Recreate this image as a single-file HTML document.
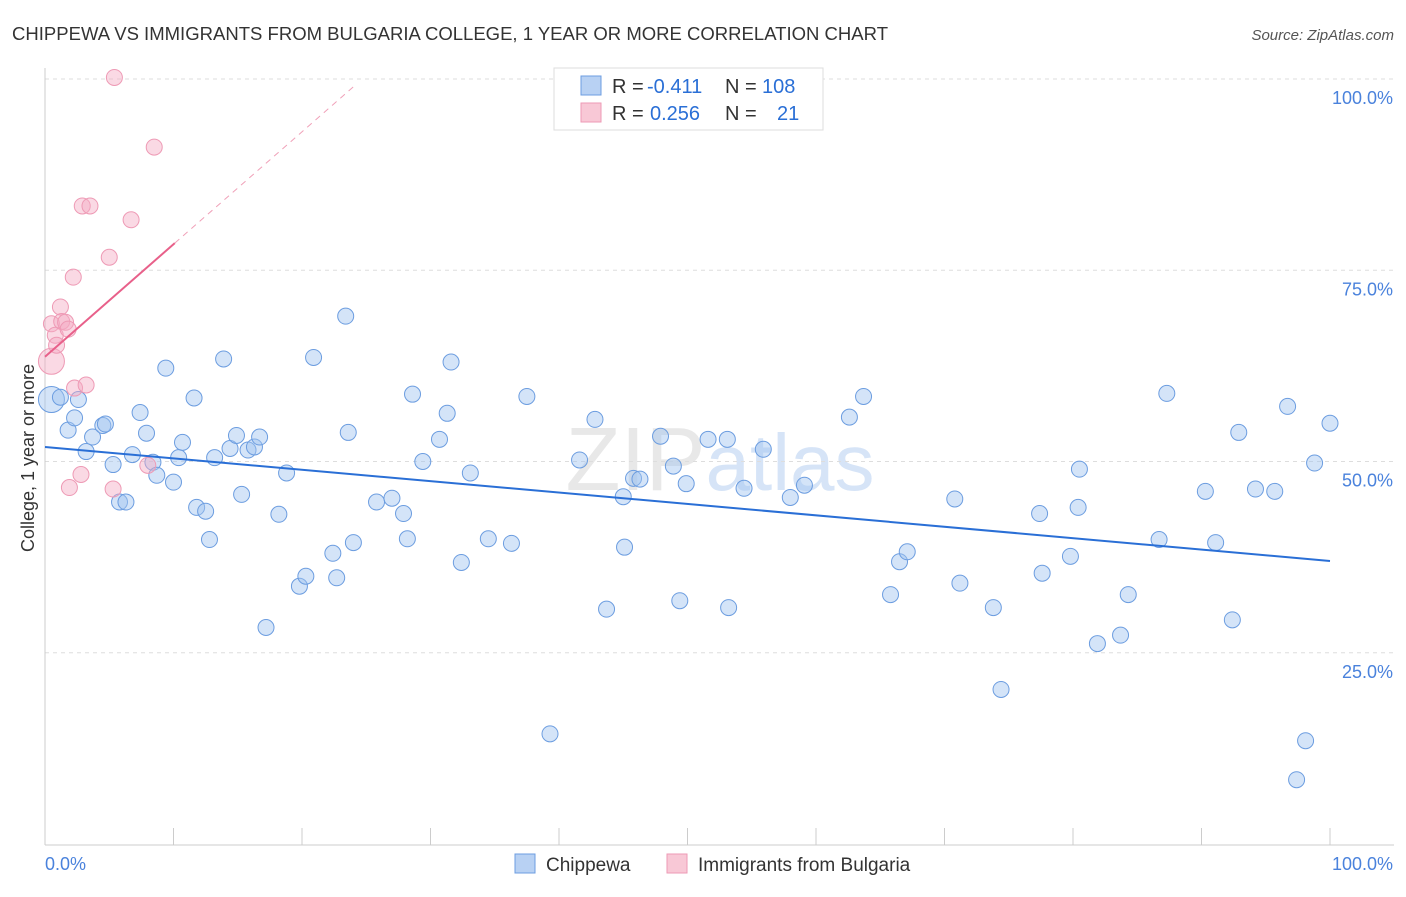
<!DOCTYPE html>
<html><head><meta charset="utf-8">
<style>
body{margin:0;background:#fff;font-family:"Liberation Sans",sans-serif;}
svg text{font-family:"Liberation Sans",sans-serif;}
</style></head>
<body>
<svg width="1406" height="892" viewBox="0 0 1406 892" xmlns="http://www.w3.org/2000/svg">
<text x="12" y="40" font-size="18" fill="#333" textLength="876" lengthAdjust="spacingAndGlyphs">CHIPPEWA VS IMMIGRANTS FROM BULGARIA COLLEGE, 1 YEAR OR MORE CORRELATION CHART</text>
<text x="1394" y="40" font-size="15" fill="#555" text-anchor="end" font-style="italic">Source: ZipAtlas.com</text>
<text x="720" y="490" font-size="90" fill="#e8e8e8" text-anchor="middle" font-family="Liberation Serif">ZIP<tspan fill="#d6e4f7" font-family="Liberation Sans" font-size="80">atlas</tspan></text>
<g id="grid"></g>
<g id="axes"></g>
<g id="pts"></g>
<g id="trends"></g>
<text transform="translate(34,458) rotate(-90)" font-size="18" fill="#333" text-anchor="middle">College, 1 year or more</text>
<g>
<rect x="554" y="68" width="269" height="62" fill="#fff" stroke="#ddd"/>
<rect x="581" y="76" width="20" height="19" fill="#b8d1f3" stroke="#6c9de0"/>
<rect x="581" y="103" width="20" height="19" fill="#f8c8d6" stroke="#ee9ab5"/>
<text x="612" y="93" font-size="20" fill="#333">R =</text>
<text x="647" y="93" font-size="20" fill="#2a6fd6">-0.411</text>
<text x="725" y="93" font-size="20" fill="#333">N =</text>
<text x="762" y="93" font-size="20" fill="#2a6fd6">108</text>
<text x="612" y="120" font-size="20" fill="#333">R =</text>
<text x="650" y="120" font-size="20" fill="#2a6fd6">0.256</text>
<text x="725" y="120" font-size="20" fill="#333">N =</text>
<text x="777" y="120" font-size="20" fill="#2a6fd6">21</text>
</g>
<g>
<rect x="515" y="854" width="20" height="19" fill="#b8d1f3" stroke="#6c9de0"/>
<text x="546" y="871" font-size="19" fill="#333">Chippewa</text>
<rect x="667" y="854" width="20" height="19" fill="#f8c8d6" stroke="#ee9ab5"/>
<text x="698" y="871" font-size="19" fill="#333">Immigrants from Bulgaria</text>
</g>
</svg>
<script>
const blueX=[0.5,1.2,1.8,2.3,2.6,3.2,3.7,4.5,4.7,5.3,5.8,6.3,6.8,7.4,7.9,8.4,8.7,9.4,10.0,10.4,10.7,11.6,11.8,12.5,12.8,13.2,13.9,14.4,14.9,15.3,15.8,16.3,16.7,17.2,18.2,18.8,19.8,20.3,20.9,22.4,22.7,23.4,23.6,24.0,25.8,27.0,27.9,28.2,28.6,29.4,30.7,31.3,31.6,32.4,33.1,34.5,36.3,37.5,39.3,41.6,42.8,43.7,45.0,45.1,45.8,46.3,47.9,48.9,49.4,49.9,51.6,53.1,53.2,54.4,55.9,58.0,59.1,62.6,63.7,65.8,66.5,67.1,70.8,71.2,73.8,74.4,77.4,77.6,79.8,80.4,80.5,81.9,83.7,84.3,86.7,87.3,90.3,91.1,92.4,92.9,94.2,95.7,96.7,98.1,97.4,98.8,100.0];
const blueY=[58.1,58.4,54.1,55.7,58.1,51.3,53.2,54.7,54.9,49.6,44.7,44.7,50.9,56.4,53.7,49.9,48.2,62.2,47.3,50.5,52.5,58.3,44.0,43.5,39.8,50.5,63.4,51.7,53.4,45.7,51.5,51.9,53.2,28.3,43.1,48.5,33.7,35.0,63.6,38.0,34.8,69.0,53.8,39.4,44.7,45.2,43.2,39.9,58.8,50.0,52.9,56.3,63.0,36.8,48.5,39.9,39.3,58.5,14.4,50.2,55.5,30.7,45.4,38.8,47.8,47.7,53.3,49.4,31.8,47.1,52.9,52.9,30.9,46.5,51.6,45.3,46.9,55.8,58.5,32.6,36.9,38.2,45.1,34.1,30.9,20.2,43.2,35.4,37.6,44.0,49.0,26.2,27.3,32.6,39.8,58.9,46.1,39.4,29.3,53.8,46.4,46.1,57.2,13.5,8.4,49.8,55.0];
const pinkX=[0.5,0.5,0.8,0.9,1.2,1.3,1.6,1.8,1.9,2.2,2.3,2.8,2.9,3.2,3.5,5.0,5.3,5.4,6.7,8.0,8.5];
const pinkY=[63.1,68.0,66.5,65.2,70.2,68.3,68.2,67.3,46.6,74.1,59.6,48.3,83.4,60.0,83.4,76.7,46.4,100.2,81.6,49.5,91.1];
const blueTrend=[51.9,37.0];
const pinkTrend=[63.7,1.47];
const yTicks=[25,50,75,100];
const yTickLabels=["25.0%","50.0%","75.0%","100.0%"];
const xTicks=[0,10,20,30,40,50,60,70,80,90,100];

const NS="http://www.w3.org/2000/svg";
const xs=v=>45+v*12.85;
const ys=v=>844-v*7.65;
function mk(t,a,p){const e=document.createElementNS(NS,t);for(const k in a)e.setAttribute(k,a[k]);p.appendChild(e);return e;}
const grid=document.getElementById('grid'),axes=document.getElementById('axes'),pts=document.getElementById('pts'),tr=document.getElementById('trends');
yTicks.forEach((v,i)=>{
 const l=mk('line',{x1:45,x2:1394,y1:ys(v),y2:ys(v),stroke:'#ddd','stroke-dasharray':'4,4'},grid);
 
 
 const t=mk('text',{x:1393,y:ys(v)+25,'font-size':18,fill:'#4a82dc','text-anchor':'end'},axes);
 t.textContent=yTickLabels[i];
 
 
});
let a=mk('line',{x1:45,x2:45,y1:68,y2:845,stroke:'#ccc'},axes);


a=mk('line',{x1:45,x2:1394,y1:845,y2:845,stroke:'#ccc'},axes);


xTicks.forEach(v=>{
 const l=mk('line',{x1:xs(v),x2:xs(v),y1:828,y2:845,stroke:'#ccc'},axes);
 
 
});
let t=mk('text',{x:45,y:870,'font-size':18,fill:'#4a82dc'},axes);t.textContent='0.0%';


t=mk('text',{x:1393,y:870,'font-size':18,fill:'#4a82dc','text-anchor':'end'},axes);t.textContent='100.0%';


blueX.forEach((x,i)=>{
 const c=mk('circle',{cx:xs(x),cy:ys(blueY[i]),r:i==0?13:8,fill:'rgba(160,195,240,0.45)',stroke:'#6c9de0','stroke-width':1},pts);
 
 
});
pinkX.forEach((x,i)=>{
 const c=mk('circle',{cx:xs(x),cy:ys(pinkY[i]),r:i==0?13:8,fill:'rgba(245,170,195,0.45)',stroke:'#ee9ab5','stroke-width':1},pts);
 
 
});
let l=mk('line',{x1:xs(0),y1:ys(blueTrend[0]),x2:xs(100),y2:ys(blueTrend[1]),stroke:'#2a6fd6','stroke-width':2},tr);


l=mk('line',{x1:xs(0),y1:ys(pinkTrend[0]),x2:xs(10.1),y2:ys(pinkTrend[0]+pinkTrend[1]*10.1),stroke:'#e8608a','stroke-width':2},tr);


l=mk('line',{x1:xs(10.1),y1:ys(pinkTrend[0]+pinkTrend[1]*10.1),x2:xs(24.2),y2:ys(pinkTrend[0]+pinkTrend[1]*24.2),stroke:'#f0a0b8','stroke-width':1,'stroke-dasharray':'6,5'},tr);


</script>
</body></html>
